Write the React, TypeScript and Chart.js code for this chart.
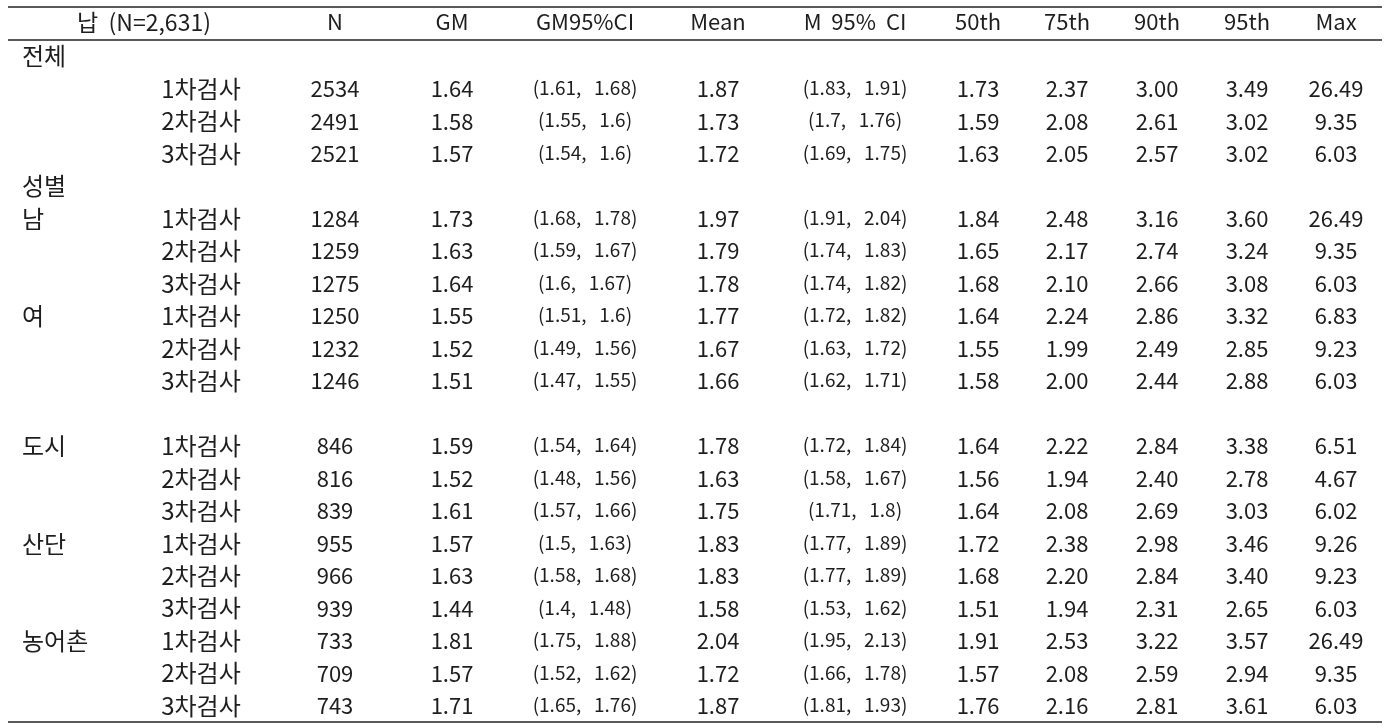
import React, { useEffect, useRef } from "react";
import { Chart, registerables } from "chart.js";

Chart.register(...registerables);

// ---------- DATA ----------
const HEADERS = ["납  (N=2,631)", "N", "GM", "GM95%CI", "Mean", "M  95%  CI", "50th", "75th", "90th", "95th", "Max"];

const ROW_GROUP = ["전체", "", "", "", "성별", "남", "", "", "여", "", "", "", "도시", "", "", "산단", "", "", "농어촌", "", ""];
const ROW_ROUND = ["", "1차검사", "2차검사", "3차검사", "", "1차검사", "2차검사", "3차검사", "1차검사", "2차검사", "3차검사", "", "1차검사", "2차검사", "3차검사", "1차검사", "2차검사", "3차검사", "1차검사", "2차검사", "3차검사"];

const N_VAL = [null, 2534, 2491, 2521, null, 1284, 1259, 1275, 1250, 1232, 1246, null, 846, 816, 839, 955, 966, 939, 733, 709, 743];
const GM = [null, 1.64, 1.58, 1.57, null, 1.73, 1.63, 1.64, 1.55, 1.52, 1.51, null, 1.59, 1.52, 1.61, 1.57, 1.63, 1.44, 1.81, 1.57, 1.71];
const GM_LO = [null, 1.61, 1.55, 1.54, null, 1.68, 1.59, 1.6, 1.51, 1.49, 1.47, null, 1.54, 1.48, 1.57, 1.5, 1.58, 1.4, 1.75, 1.52, 1.65];
const GM_HI = [null, 1.68, 1.6, 1.6, null, 1.78, 1.67, 1.67, 1.6, 1.56, 1.55, null, 1.64, 1.56, 1.66, 1.63, 1.68, 1.48, 1.88, 1.62, 1.76];
const MEAN = [null, 1.87, 1.73, 1.72, null, 1.97, 1.79, 1.78, 1.77, 1.67, 1.66, null, 1.78, 1.63, 1.75, 1.83, 1.83, 1.58, 2.04, 1.72, 1.87];
const M_LO = [null, 1.83, 1.7, 1.69, null, 1.91, 1.74, 1.74, 1.72, 1.63, 1.62, null, 1.72, 1.58, 1.71, 1.77, 1.77, 1.53, 1.95, 1.66, 1.81];
const M_HI = [null, 1.91, 1.76, 1.75, null, 2.04, 1.83, 1.82, 1.82, 1.72, 1.71, null, 1.84, 1.67, 1.8, 1.89, 1.89, 1.62, 2.13, 1.78, 1.93];
const P50 = [null, 1.73, 1.59, 1.63, null, 1.84, 1.65, 1.68, 1.64, 1.55, 1.58, null, 1.64, 1.56, 1.64, 1.72, 1.68, 1.51, 1.91, 1.57, 1.76];
const P75 = [null, 2.37, 2.08, 2.05, null, 2.48, 2.17, 2.10, 2.24, 1.99, 2.00, null, 2.22, 1.94, 2.08, 2.38, 2.20, 1.94, 2.53, 2.08, 2.16];
const P90 = [null, 3.00, 2.61, 2.57, null, 3.16, 2.74, 2.66, 2.86, 2.49, 2.44, null, 2.84, 2.40, 2.69, 2.98, 2.84, 2.31, 3.22, 2.59, 2.81];
const P95 = [null, 3.49, 3.02, 3.02, null, 3.60, 3.24, 3.08, 3.32, 2.85, 2.88, null, 3.38, 2.78, 3.03, 3.46, 3.40, 2.65, 3.57, 2.94, 3.61];
const MAX = [null, 26.49, 9.35, 6.03, null, 26.49, 9.35, 6.03, 6.83, 9.23, 6.03, null, 6.51, 4.67, 6.02, 9.26, 9.23, 6.03, 26.49, 9.35, 6.03];

// ---------- LAYOUT (table geometry, in x-scale units) ----------
const W = 1387;
const H = 728;
const TABLE_LEFT = 8;
const TABLE_RIGHT = 1382;
const GROUP_TEXT_X = 22;
const HEADER0_CENTER = 144;
const COL_CENTERS = [201, 335, 452, 585, 718, 855, 978, 1067, 1157, 1247, 1336];
const FONT = "'Noto Sans CJK KR', 'Noto Sans', sans-serif";
const TEXT_COLOR = "#1e1e1e";
const LINE_COLOR = "#222222";

const f2 = (v: number | null) => (v == null ? "" : v.toFixed(2));
const ci = (lo: number | null, hi: number | null) => (lo == null || hi == null ? "" : `(${lo},   ${hi})`);

const tablePlugin = {
  id: "tableText",
  afterDraw(chart: any) {
    const { ctx, chartArea, scales } = chart;
    const xs = scales.x;
    const ys = scales.y;
    const px = (v: number) => xs.getPixelForValue(v);
    ctx.save();

    // rules
    ctx.strokeStyle = LINE_COLOR;
    ctx.lineWidth = 1.5;
    const rule = (y: number) => {
      ctx.beginPath();
      ctx.moveTo(px(TABLE_LEFT), y);
      ctx.lineTo(px(TABLE_RIGHT), y);
      ctx.stroke();
    };
    const headerY = chartArea.top - 18;
    rule(chartArea.top - 33);
    rule(chartArea.top);
    rule(chartArea.bottom);

    ctx.fillStyle = TEXT_COLOR;
    ctx.textBaseline = "middle";
    ctx.font = `22px ${FONT}`;
    ctx.textAlign = "center";
    ctx.font = `23px ${FONT}`;
    ctx.fillText(HEADERS[0], px(HEADER0_CENTER), headerY);
    ctx.font = `22px ${FONT}`;
    for (let c = 1; c < HEADERS.length; c++) {
      ctx.fillText(HEADERS[c], px(COL_CENTERS[c]), headerY);
    }

    for (let r = 0; r < ROW_GROUP.length; r++) {
      const y = ys.getPixelForValue(r);
      ctx.font = `24px ${FONT}`;
      ctx.textAlign = "left";
      if (ROW_GROUP[r]) ctx.fillText(ROW_GROUP[r], px(GROUP_TEXT_X), y);
      ctx.textAlign = "center";
      if (ROW_ROUND[r]) ctx.fillText(ROW_ROUND[r], px(COL_CENTERS[0]), y);
      if (N_VAL[r] == null) continue;
      ctx.font = `22px ${FONT}`;
      const big: [number, string][] = [
        [1, String(N_VAL[r])],
        [2, f2(GM[r])],
        [4, f2(MEAN[r])],
        [6, f2(P50[r])],
        [7, f2(P75[r])],
        [8, f2(P90[r])],
        [9, f2(P95[r])],
        [10, f2(MAX[r])],
      ];
      for (const [c, t] of big) ctx.fillText(t, px(COL_CENTERS[c]), y);
      ctx.font = `19px ${FONT}`;
      ctx.fillText(ci(GM_LO[r], GM_HI[r]), px(COL_CENTERS[3]), y - 1);
      ctx.fillText(ci(M_LO[r], M_HI[r]), px(COL_CENTERS[5]), y - 1);
    }
    ctx.restore();
  },
};

export default function App() {
  const ref = useRef<HTMLCanvasElement | null>(null);
  useEffect(() => {
    if (!ref.current) return;
    const chart = new Chart(ref.current, {
      type: "scatter",
      data: { datasets: [] },
      options: {
        animation: false,
        responsive: false,
        devicePixelRatio: 1,
        layout: { padding: { top: 40, bottom: 6, left: 0, right: 0 } },
        plugins: { legend: { display: false }, tooltip: { enabled: false } },
        scales: {
          x: { type: "linear", min: 0, max: W, display: false },
          y: {
            type: "category",
            labels: ROW_GROUP.map((_, i) => String(i)),
            offset: true,
            display: false,
          },
        },
      },
      plugins: [tablePlugin],
    } as any);
    return () => chart.destroy();
  }, []);
  return (
    <div style={{ position: "fixed", left: 0, top: 0, width: W, height: H, background: "#fff" }}>
      <canvas ref={ref} width={W} height={H} style={{ width: W, height: H, display: "block" }} />
    </div>
  );
}
